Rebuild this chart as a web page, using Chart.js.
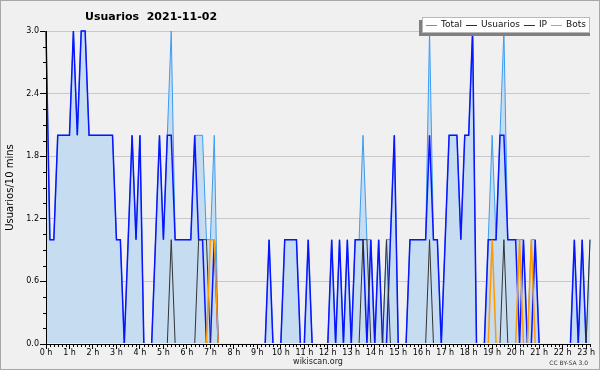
<!DOCTYPE html>
<html>
<head>
<meta charset="utf-8">
<title>Usuarios 2021-11-02</title>
<script src="https://cdn.jsdelivr.net/npm/chart.js@4.4.1/dist/chart.umd.min.js"></script>
<style>
  html, body { margin: 0; padding: 0; background: #f0f0f0; }
  #wrap { width: 600px; height: 370px; }
</style>
</head>
<body>
<div id="wrap"><canvas id="chart" width="600" height="370"></canvas></div>
<script>
const TITLE = 'Usuarios  2021-11-02';
const Y_TITLE = 'Usuarios/10 mins';
const SOURCE = 'wikiscan.org';
const LICENCE = 'CC BY-SA 3.0';

const hourLabels = ['0 h', '1 h', '2 h', '3 h', '4 h', '5 h', '6 h', '7 h', '8 h', '9 h', '10 h', '11 h',
                    '12 h', '13 h', '14 h', '15 h', '16 h', '17 h', '18 h', '19 h', '20 h', '21 h', '22 h', '23 h'];
const yTicks = [0, 0.6, 1.2, 1.8, 2.4, 3.0];

// one value per 10 minutes, 0:00 -> 23:10 (12 per row = 2 hours)
const total = [
  3,1,1,2,2,2,2,3,2,3,3,2,
  2,2,2,2,2,2,1,1,0,1,2,1,
  2,0,0,0,1,2,1,2,3,1,1,1,
  1,1,2,2,2,1,1,2,0,0,0,0,
  0,0,0,0,0,0,0,0,0,1,0,0,
  0,1,1,1,1,0,0,1,0,0,0,0,
  0,1,0,1,0,1,0,1,1,2,1,1,
  0,1,0,1,1,2,0,0,0,1,1,1,
  1,1,3,1,1,0,1,2,2,2,1,2,
  2,3,0,0,0,1,2,1,2,3,1,1,
  1,1,1,0,1,1,0,0,0,0,0,0,
  0,0,0,1,0,1,0,1
];
const usuarios = [
  3,1,1,2,2,2,2,3,2,3,3,2,
  2,2,2,2,2,2,1,1,0,1,2,1,
  2,0,0,0,1,2,1,2,2,1,1,1,
  1,1,2,1,1,0,0,1,0,0,0,0,
  0,0,0,0,0,0,0,0,0,1,0,0,
  0,1,1,1,1,0,0,1,0,0,0,0,
  0,1,0,1,0,1,0,1,1,1,0,1,
  0,1,0,0,1,2,0,0,0,1,1,1,
  1,1,2,1,1,0,1,2,2,2,1,2,
  2,3,0,0,0,1,1,1,2,2,1,1,
  1,0,1,0,0,1,0,0,0,0,0,0,
  0,0,0,1,0,1,0,0
];
const ip = [
  0,0,0,0,0,0,0,0,0,0,0,0,
  0,0,0,0,0,0,0,0,0,0,0,0,
  0,0,0,0,0,0,0,0,1,0,0,0,
  0,0,0,1,1,1,0,0,0,0,0,0,
  0,0,0,0,0,0,0,0,0,0,0,0,
  0,0,0,0,0,0,0,0,0,0,0,0,
  0,0,0,0,0,0,0,0,0,1,1,0,
  0,0,0,1,0,0,0,0,0,0,0,0,
  0,0,1,0,0,0,0,0,0,0,0,0,
  0,0,0,0,0,0,0,0,0,1,0,0,
  0,0,0,0,0,0,0,0,0,0,0,0,
  0,0,0,0,0,0,0,1
];
const bots = [
  0,0,0,0,0,0,0,0,0,0,0,0,
  0,0,0,0,0,0,0,0,0,0,0,0,
  0,0,0,0,0,0,0,0,0,0,0,0,
  0,0,0,0,0,0,1,1,0,0,0,0,
  0,0,0,0,0,0,0,0,0,0,0,0,
  0,0,0,0,0,0,0,0,0,0,0,0,
  0,0,0,0,0,0,0,0,0,0,0,0,
  0,0,0,0,0,0,0,0,0,0,0,0,
  0,0,0,0,0,0,0,0,0,0,0,0,
  0,0,0,0,0,0,1,0,0,0,0,0,
  0,1,0,0,1,0,0,0,0,0,0,0,
  0,0,0,0,0,0,0,0
];

const slots = total.map((_, i) => i);

Chart.defaults.font.family = '"DejaVu Sans", sans-serif';
Chart.defaults.color = '#000';

// background, minor ticks, boxed legend, title, licence, frame
const decor = {
  id: 'decor',
  beforeDraw(chart) {
    const ctx = chart.ctx;
    ctx.save();
    ctx.fillStyle = '#f0f0f0';
    ctx.fillRect(0, 0, chart.width, chart.height);
    ctx.restore();
  },
  afterDraw(chart) {
    const { ctx, scales: { x, y } } = chart;
    ctx.save();

    // minor ticks
    ctx.strokeStyle = '#000';
    ctx.lineWidth = 1;
    ctx.beginPath();
    slots.forEach(i => {
      if (i % 6 === 0) return;
      const px = Math.round(x.getPixelForValue(i)) + 0.5;
      ctx.moveTo(px, y.bottom);
      ctx.lineTo(px, y.bottom + 3);
    });
    for (let k = 1; k < 20; k++) {
      if (k % 4 === 0) continue;
      const py = Math.round(y.getPixelForValue(k * 0.15)) + 0.5;
      ctx.moveTo(y.right - 3, py);
      ctx.lineTo(y.right, py);
    }
    ctx.stroke();

    // legend box
    ctx.fillStyle = '#808080';
    ctx.fillRect(419, 20, 171, 16);
    ctx.fillStyle = '#ffffff';
    ctx.fillRect(422, 17, 168, 16);
    ctx.strokeStyle = '#b8b8b8';
    ctx.strokeRect(422.5, 17.5, 167, 15);
    ctx.font = '9px "DejaVu Sans"';
    ctx.textBaseline = 'middle';
    let lx = 426;
    chart.data.datasets.forEach(ds => {
      ctx.strokeStyle = ds.borderColor;
      ctx.lineWidth = 1;
      ctx.beginPath();
      ctx.moveTo(lx, 25.5);
      ctx.lineTo(lx + 11, 25.5);
      ctx.stroke();
      ctx.fillStyle = '#111';
      ctx.fillText(ds.label, lx + 15, 25);
      lx += 15 + ctx.measureText(ds.label).width + 4;
    });

    // title
    ctx.font = 'bold 11px "DejaVu Sans"';
    ctx.fillStyle = '#000';
    ctx.fillText(TITLE, 85, 17);

    // licence
    ctx.font = '6px "DejaVu Sans"';
    ctx.fillStyle = '#333';
    ctx.textAlign = 'right';
    ctx.fillText(LICENCE, 588, 363);

    // frame
    ctx.strokeStyle = '#a8a8a8';
    ctx.lineWidth = 1;
    ctx.strokeRect(0.5, 0.5, chart.width - 1, chart.height - 1);
    ctx.restore();
  }
};

const lineClip = { left: 2, right: 4, top: 4, bottom: -1 };

new Chart(document.getElementById('chart'), {
  type: 'line',
  data: {
    labels: slots,
    datasets: [
      { label: 'Total', data: total, borderColor: '#3d9cf2', borderWidth: 1, backgroundColor: '#c6dcf0', fill: 'origin', order: 3, clip: lineClip },
      { label: 'Usuarios', data: usuarios, borderColor: '#0a14ff', borderWidth: 1.5, fill: false, order: 2, clip: lineClip },
      { label: 'IP', data: ip, borderColor: '#333333', borderWidth: 1, fill: false, order: 1, clip: lineClip },
      { label: 'Bots', data: bots, borderColor: '#ff9a00', borderWidth: 1.5, fill: false, order: 0, clip: lineClip }
    ]
  },
  options: {
    responsive: false,
    animation: false,
    devicePixelRatio: 1,
    layout: { padding: { left: 0, right: 10, top: 31, bottom: 0 } },
    elements: { point: { radius: 0 }, line: { tension: 0 } },
    plugins: { legend: { display: false }, title: { display: false }, tooltip: { enabled: false } },
    scales: {
      x: {
        type: 'linear',
        min: 0,
        max: slots.length - 1,
        afterBuildTicks: s => { s.ticks = hourLabels.map((_, h) => ({ value: h * 6 })); },
        afterFit: s => { s.height = 26; },
        grid: { drawOnChartArea: false, tickLength: 5, tickColor: '#000' },
        border: { color: '#000', z: 1 },
        ticks: {
          autoSkip: false, maxRotation: 0, padding: -1, color: '#000',
          font: { size: 8 },
          callback: v => hourLabels[Math.round(v / 6)]
        },
        title: { display: true, text: SOURCE, color: '#222', font: { size: 8 }, padding: { top: 0, bottom: 3 } }
      },
      y: {
        min: 0,
        max: 3,
        afterBuildTicks: s => { s.ticks = yTicks.map(v => ({ value: v })); },
        afterFit: s => { s.width = 46; },
        grid: { color: '#c8c8c8', tickColor: '#000', tickLength: 6 },
        border: { color: '#000', z: 1 },
        ticks: { padding: 1, color: '#000', font: { size: 8 }, callback: v => v.toFixed(1) },
        title: { display: true, text: Y_TITLE, color: '#000', font: { size: 10 }, padding: { top: 4, bottom: 0 } }
      }
    }
  },
  plugins: [decor]
});
</script>
</body>
</html>
